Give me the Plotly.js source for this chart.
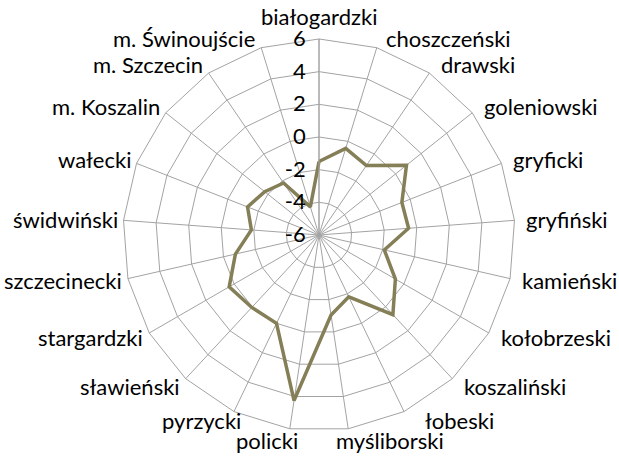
<!DOCTYPE html>
<html>
<head>
<meta charset="utf-8">
<script src="https://cdn.plot.ly/plotly-3.0.1.min.js"></script>
<style>html,body{margin:0;padding:0;background:#fff;}#chart{width:619px;height:457px;}</style>
</head>
<body>
<div id="chart"></div>
<script>
const categories = ["białogardzki","choszczeński","drawski","goleniowski","gryficki","gryfiński","kamieński","kołobrzeski","koszaliński","łobeski","myśliborski","policki","pyrzycki","sławieński","stargardzki","szczecinecki","świdwiński","wałecki","m. Koszalin","m. Szczecin","m. Świnoujście"];
const values = [-1.5,-0.45,-0.85,0.85,-0.55,-0.5,-1.9,-0.6,0.65,-1.8,-1.05,4.25,0.0,0.05,0.35,-0.75,-1.85,-1.3,-1.75,-2.15,-4.2];
const tickVals = [-6,-4,-2,0,2,4,6];

const W = 619, H = 457;
const domX = [0.1987, 0.832], domY = [0.0569, 0.9147];

const theta = categories.concat([categories[0]]);
const r = values.concat([values[0]]);

const data = [{
  type: "scatterpolar",
  r: r,
  theta: theta,
  mode: "lines",
  line: {color: "#857F57", width: 3.5},
  hoverinfo: "skip",
  showlegend: false
}];

// Category labels placed just outside the outer polygon, following each spoke's angle
const cx = W * (domX[0] + domX[1]) / 2;
const cy = H * (1 - (domY[0] + domY[1]) / 2);
const R = W * (domX[1] - domX[0]) / 2;
const n = categories.length;
const annotations = categories.map(function (name, k) {
  const a = k * 2 * Math.PI / n;
  const s = Math.sin(a), c = Math.cos(a);
  const vx = cx + R * s, vy = cy - R * c;
  let x, xanchor, y;
  if (Math.abs(s) < 0.05 && c > 0) {
    x = vx; xanchor = "center"; y = vy - 22;
  } else if (c < 0 && Math.abs(s) < 0.3) {
    if (s > 0) { x = vx - 14; xanchor = "left"; }
    else { x = vx + 10; xanchor = "right"; }
    y = vy + 12;
  } else if (s > 0) {
    x = vx + (c > 0.9 ? 7 : 10) + 9 * Math.max(0, -c - 0.8) / 0.1; xanchor = "left"; y = vy - 10 * c;
  } else {
    x = vx - 4 + 13 * Math.max(0, -c - 0.8) / 0.1; xanchor = "right"; y = vy - 10 * c;
  }
  return {
    text: name, showarrow: false,
    xref: "paper", yref: "paper",
    x: x / W, y: 1 - y / H,
    xanchor: xanchor, yanchor: "middle",
    font: {size: 22, family: "Lato, sans-serif", color: "#000"}
  };
});

const grid = "#A3A3A3";
const layout = {
  width: W, height: H,
  margin: {l: 0, r: 0, t: 0, b: 0},
  paper_bgcolor: "#fff",
  font: {family: "Lato, 'Open Sans', sans-serif", size: 22, color: "#000"},
  showlegend: false,
  annotations: annotations,
  polar: {
    domain: {x: domX, y: domY},
    bgcolor: "#fff",
    gridshape: "linear",
    angularaxis: {
      direction: "clockwise",
      rotation: 90,
      type: "category",
      categoryarray: categories,
      showline: true,
      linecolor: grid,
      linewidth: 1,
      gridcolor: grid,
      gridwidth: 1,
      ticks: "",
      showticklabels: false
    },
    radialaxis: {
      range: [-6, 6],
      tickvals: tickVals,
      ticktext: tickVals.map(String),
      angle: 90,
      side: "counterclockwise",
      tickangle: 90,
      showline: true,
      linecolor: grid,
      linewidth: 1,
      gridcolor: grid,
      gridwidth: 1,
      ticks: "outside",
      ticklen: 5,
      tickcolor: "rgba(0,0,0,0)",
      tickfont: {size: 22, family: "Lato, sans-serif", color: "#000"}
    }
  }
};
Plotly.newPlot("chart", data, layout, {displayModeBar: false, staticPlot: true});
</script>
</body>
</html>
